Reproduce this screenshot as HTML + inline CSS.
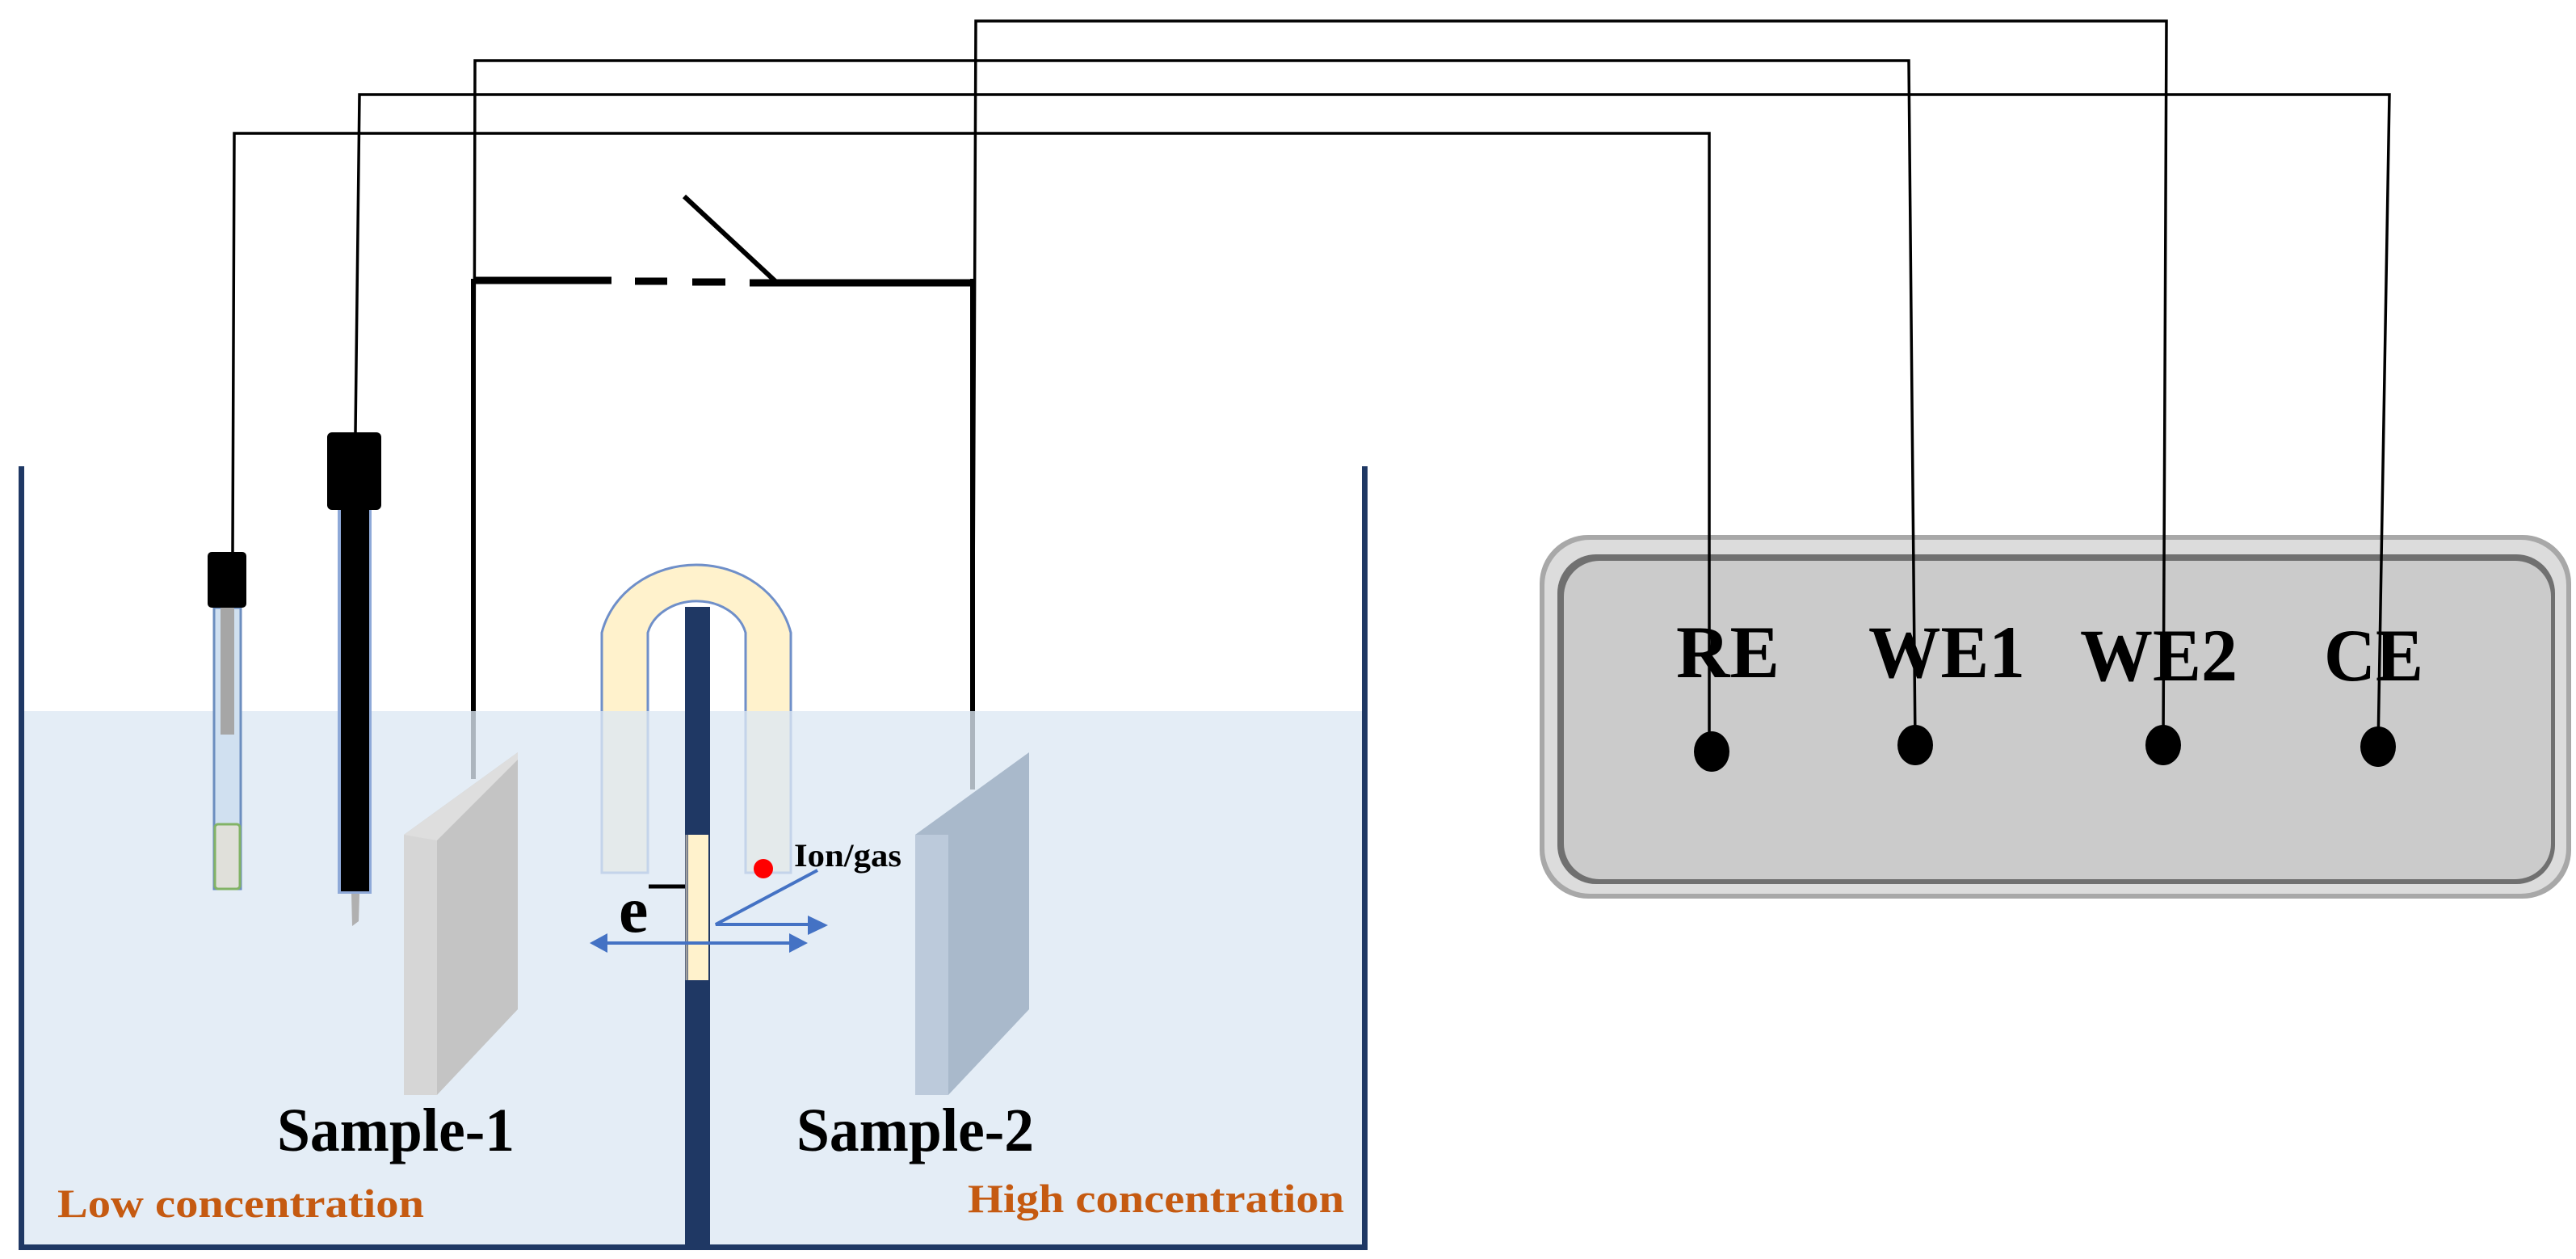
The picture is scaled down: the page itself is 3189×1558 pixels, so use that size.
<!DOCTYPE html>
<html><head><meta charset="utf-8"><style>html,body{margin:0;padding:0;background:#fff}svg{display:block}</style></head>
<body>
<svg width="3189" height="1558" viewBox="0 0 3189 1558" xmlns="http://www.w3.org/2000/svg">
<!-- instrument box -->
<rect x="1906" y="662" width="1277" height="450" rx="60" fill="#a8a8a8"/>
<rect x="1912" y="668" width="1265" height="438" rx="56" fill="#dcdcdc"/>
<rect x="1928" y="686" width="1235" height="408" rx="48" fill="#707070"/>
<rect x="1936" y="694" width="1222" height="394" rx="44" fill="#cbcbcb"/>
<g font-family="Liberation Serif, serif" font-weight="bold" font-size="92" fill="#000">
<text x="2075" y="838" textLength="128" lengthAdjust="spacingAndGlyphs">RE</text>
<text x="2313" y="838" textLength="194" lengthAdjust="spacingAndGlyphs">WE1</text>
<text x="2575" y="842" textLength="195" lengthAdjust="spacingAndGlyphs">WE2</text>
<text x="2877" y="842" textLength="123" lengthAdjust="spacingAndGlyphs">CE</text>
</g>
<ellipse cx="2119" cy="930" rx="22" ry="25" fill="#000"/>
<ellipse cx="2371" cy="922" rx="22" ry="25" fill="#000"/>
<ellipse cx="2678" cy="922" rx="22" ry="25" fill="#000"/>
<ellipse cx="2944" cy="924" rx="22" ry="25" fill="#000"/>
<!-- wires -->
<g stroke="#000" fill="none" stroke-width="3.5">
<polyline points="288,683 290,165 2116,165 2116,925"/>
<polyline points="440,535 445,117 2958,117 2944,924"/>
<polyline points="586,964 588,75 2363,75 2371,922"/>
<polyline points="1204,977 1208,26 2682,26 2678,922"/>
</g>
<line x1="586" y1="345" x2="586" y2="964" stroke="#000" stroke-width="6"/>
<line x1="1204" y1="345" x2="1204" y2="977" stroke="#000" stroke-width="6"/>
<!-- switch -->
<g stroke="#000" stroke-width="9">
<line x1="586" y1="347" x2="757" y2="347"/>
<line x1="786" y1="348" x2="826" y2="348"/>
<line x1="857" y1="349" x2="898" y2="349"/>
<line x1="928" y1="350" x2="1206" y2="350"/>
</g>
<line x1="847" y1="243" x2="962" y2="350" stroke="#000" stroke-width="6"/>
<!-- U tube -->
<path d="M745,1080 V783 A120,108 0 0 1 979,783 V1080 H923 V783 A62,50 0 0 0 802,783 V1080 Z" fill="#fff2cc" stroke="#6f8fc9" stroke-width="3"/>
<!-- water -->
<rect x="29" y="880" width="1660" height="662" fill="#dce8f4" fill-opacity="0.78"/>
<!-- beaker walls -->
<g fill="#1f3864">
<rect x="23" y="577" width="7" height="970"/>
<rect x="1686" y="577" width="7" height="970"/>
<rect x="23" y="1540" width="1670" height="7"/>
<rect x="848" y="751" width="31" height="796"/>
</g>
<rect x="852" y="1033" width="25" height="180" fill="#fff2cc"/>
<line x1="850" y1="1033" x2="850" y2="1213" stroke="#a0a0a0" stroke-width="3"/>
<!-- reference electrode -->
<rect x="265" y="752" width="33" height="348" fill="#d0e0f0" stroke="#6c8ebf" stroke-width="3"/>
<rect x="273" y="752" width="17" height="157" fill="#a6a6a6"/>
<rect x="266" y="1020" width="31" height="80" rx="4" fill="#e0e0da" stroke="#82b366" stroke-width="3"/>
<rect x="257" y="683" width="48" height="69" rx="5" fill="#000"/>
<!-- black electrode -->
<rect x="418" y="631" width="42" height="475" fill="#8ea9d8"/>
<rect x="422" y="631" width="35" height="472" fill="#000"/>
<polygon points="435,1106 445,1106 444,1140 436,1146" fill="#b0b0b0"/>
<rect x="405" y="535" width="67" height="96" rx="6" fill="#000"/>
<!-- samples -->
<polygon points="500,1033 641,931 641,1249 541,1355 500,1355" fill="#c4c4c4"/>
<polygon points="500,1033 541,1033 541,1355 500,1355" fill="#d6d6d6"/>
<polygon points="500,1033 641,931 641,940 541,1040" fill="#dedede"/>
<polygon points="1133,1033 1274,931 1274,1249 1174,1355 1133,1355" fill="#a9b9cb"/>
<polygon points="1133,1033 1174,1033 1174,1355 1133,1355" fill="#bccadb"/>
<!-- ion / arrows -->
<circle cx="945" cy="1075" r="12" fill="#ff0000"/>
<text x="983" y="1072" font-family="Liberation Serif, serif" font-weight="bold" font-size="40" textLength="133" lengthAdjust="spacingAndGlyphs">Ion/gas</text>
<g stroke="#4472c4" stroke-width="4" fill="none">
<polyline points="1012,1077 886,1144 1005,1144"/>
<line x1="748" y1="1167" x2="982" y2="1167"/>
</g>
<g fill="#4472c4">
<polygon points="1025,1145 1000,1133 1000,1157"/>
<polygon points="1000,1167 977,1155 977,1179"/>
<polygon points="730,1167 752,1155 752,1179"/>
</g>
<line x1="803" y1="1097" x2="848" y2="1097" stroke="#000" stroke-width="5"/>
<text x="766" y="1153" font-family="Liberation Serif, serif" font-weight="bold" font-size="82">e</text>
<!-- labels -->
<g font-family="Liberation Serif, serif" font-weight="bold">
<text x="343" y="1424" font-size="76" textLength="294" lengthAdjust="spacingAndGlyphs">Sample-1</text>
<text x="986" y="1424" font-size="76" textLength="294" lengthAdjust="spacingAndGlyphs">Sample-2</text>
<text x="71" y="1506" font-size="50" fill="#c55a11" textLength="454" lengthAdjust="spacingAndGlyphs">Low concentration</text>
<text x="1198" y="1500" font-size="50" fill="#c55a11" textLength="466" lengthAdjust="spacingAndGlyphs">High concentration</text>
</g>
</svg>
</body></html>
